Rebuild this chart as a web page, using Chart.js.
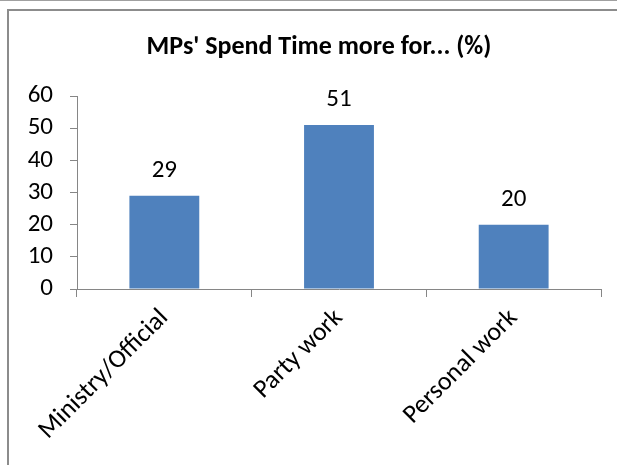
<!DOCTYPE html>
<html>
<head>
<meta charset="utf-8">
<script src="https://cdn.jsdelivr.net/npm/chart.js@4/dist/chart.umd.min.js"></script>
<style>
    html, body { margin: 0; padding: 0; background: #ffffff; }
    #wrap { position: relative; width: 617px; height: 465px; overflow: hidden; }
    #topline { position: absolute; left: 0; top: 0; width: 617px; height: 0; border-top: 1px solid #a0a0a0; }
    #frame { position: absolute; left: 7px; top: 9px; width: 640px; height: 500px; border-left: 2px solid #8c8c8c; border-top: 2px solid #8c8c8c; }
    #chart { position: absolute; left: 0; top: 0; }
</style>
</head>
<body>
<div id="wrap">
    <div id="topline"></div>
    <div id="frame"></div>
    <canvas id="chart" width="617" height="465"></canvas>
</div>
<script>
const titleText = "MPs' Spend Time more for... (%)";
const categories = ["Ministry/Official", "Party work", "Personal work"];
const shares = [29, 51, 20];
const yTicks = [0, 10, 20, 30, 40, 50, 60];

const fontFamily = "Carlito, Lato, 'Open Sans', sans-serif";
const axisGrey = '#868686';

//title is centred over the whole picture, not over the plot
const titlePlugin = {
    id: 'excelTitle',
    afterDraw(chart)
    {
        const ctx = chart.ctx;
        ctx.save();
        ctx.font = 'bold 26px ' + fontFamily;
        ctx.fillStyle = '#000000';
        ctx.textAlign = 'center';
        ctx.textBaseline = 'alphabetic';
        ctx.fillText(titleText, 319, 54);
        ctx.restore();
    }
};

//value above each bar
const valueLabels = {
    id: 'valueLabels',
    afterDatasetsDraw(chart)
    {
        const ctx = chart.ctx;
        const meta = chart.getDatasetMeta(0);
        ctx.save();
        ctx.font = '25px ' + fontFamily;
        ctx.fillStyle = '#000000';
        ctx.textAlign = 'center';
        ctx.textBaseline = 'alphabetic';
        meta.data.forEach((bar, i) => {
            ctx.fillText(String(chart.data.datasets[0].data[i]), bar.x, bar.y - 19);
        });
        ctx.restore();
    }
};

new Chart(document.getElementById('chart'),
    {
        type: 'bar',
        data:
            {
                labels: categories,
                datasets: [
                    {
                        data: shares,
                        backgroundColor: '#4f81bd',
                        borderWidth: 0,
                        barPercentage: 0.4,
                        categoryPercentage: 1.0
                    }
                ]
            },
        options:
            {
                responsive: false,
                animation: false,
                devicePixelRatio: 1,
                layout:
                    {
                        padding: { left: 0, right: 16, top: 96, bottom: 0 }
                    },
                plugins:
                    {
                        legend: { display: false },
                        title: { display: false },
                        tooltip: { enabled: false }
                    },
                scales:
                    {
                        x:
                            {
                                offset: true,
                                afterFit: function (scale) { scale.height = 176; },
                                grid:
                                    {
                                        offset: true,
                                        drawOnChartArea: false,
                                        tickLength: 8,
                                        color: axisGrey
                                    },
                                border: { color: axisGrey, width: 1 },
                                ticks:
                                    {
                                        autoSkip: false,
                                        minRotation: 45,
                                        maxRotation: 45,
                                        padding: 6,
                                        color: '#000000',
                                        font: { family: fontFamily, size: 26 }
                                    }
                            },
                        y:
                            {
                                min: 0,
                                max: 60,
                                afterFit: function (scale) { scale.width = 77; },
                                afterBuildTicks: function (scale) {
                                    scale.ticks = yTicks.map(v => ({ value: v }));
                                },
                                grid:
                                    {
                                        drawOnChartArea: false,
                                        tickLength: 7,
                                        color: axisGrey
                                    },
                                border: { color: axisGrey, width: 1 },
                                ticks:
                                    {
                                        autoSkip: false,
                                        padding: 17,
                                        color: '#000000',
                                        font: { family: fontFamily, size: 25 }
                                    }
                            }
                    }
            },
        plugins: [titlePlugin, valueLabels]
    });
</script>
</body>
</html>
